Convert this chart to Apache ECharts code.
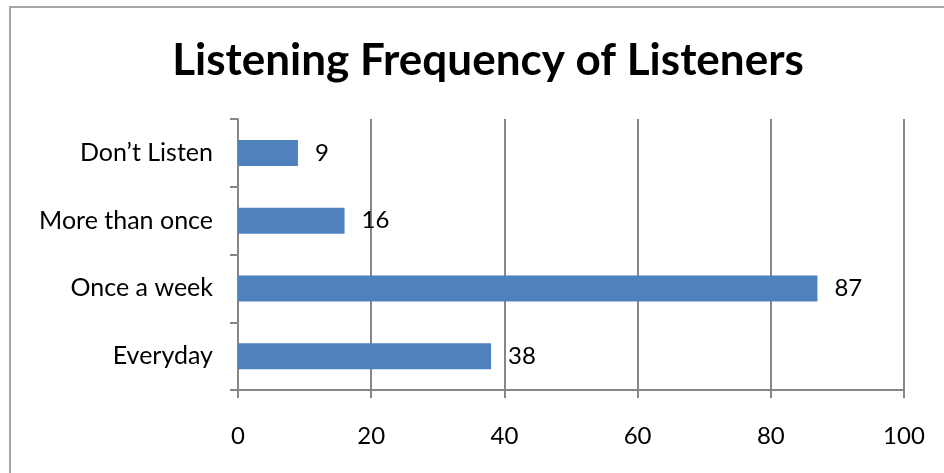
<!DOCTYPE html>
<html>
<head>
<meta charset="utf-8">
<script src="https://cdn.jsdelivr.net/npm/echarts@6/dist/echarts.min.js"></script>
<style>
  html, body { margin: 0; padding: 0; background: #fff; }
  #frame { position: absolute; left: 9px; top: 6px; width: 935px; height: 467px;
           border-left: 2px solid #a6a6a6; border-top: 2px solid #a6a6a6; }
  #chart { position: absolute; left: 0; top: 0; width: 944px; height: 473px; }
</style>
</head>
<body>
<div id="frame"></div>
<div id="chart"></div>
<script>
// Responses per listening frequency (bottom to top on the category axis)
const categories = ['Everyday', 'Once a week', 'More than once', 'Don\u2019t Listen'];
const listeners = [38, 87, 16, 9];
const xTicks = [0, 20, 40, 60, 80, 100];

const FONT = 'Lato';
const chart = echarts.init(document.getElementById('chart'), null, { renderer: 'canvas' });
chart.setOption({
  backgroundColor: 'transparent',
  animation: false,
  title: {
    text: 'Listening Frequency of Listeners',
    left: 483, top: 34, textAlign: 'center',
    textStyle: { fontFamily: FONT, fontWeight: 'bold', fontSize: 44, color: '#000' }
  },
  grid: { left: 238, right: 40, top: 119, bottom: 83, containLabel: false },
  xAxis: {
    type: 'value', min: xTicks[0], max: xTicks[xTicks.length - 1], interval: 20,
    axisLine: { show: true, lineStyle: { color: '#868686', width: 2 } },
    axisTick: { show: true, length: 8, lineStyle: { color: '#868686', width: 2 } },
    splitLine: { show: true, lineStyle: { color: '#868686', width: 2 } },
    axisLabel: { margin: 34, fontFamily: FONT, fontSize: 24, color: '#000' }
  },
  yAxis: {
    type: 'category', data: categories, boundaryGap: true,
    axisLine: { show: true, lineStyle: { color: '#868686', width: 2 } },
    axisTick: { show: true, length: 8, lineStyle: { color: '#868686', width: 2 } },
    axisLabel: { margin: 25, fontFamily: FONT, fontSize: 25, color: '#000' }
  },
  series: [{
    type: 'bar', data: listeners, barWidth: 26,
    itemStyle: { color: '#4f81bd' },
    label: { show: true, position: 'right', distance: 17,
             fontFamily: FONT, fontSize: 24, color: '#000' }
  }]
});
</script>
</body>
</html>
